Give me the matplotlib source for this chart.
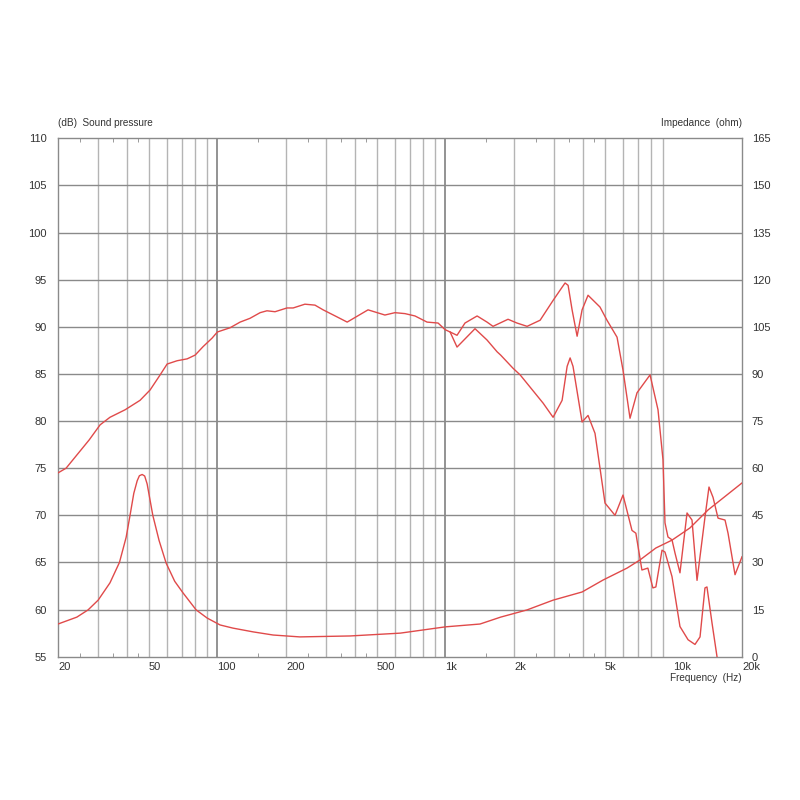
import numpy as np
import matplotlib
matplotlib.use("Agg")
import matplotlib.pyplot as plt
from matplotlib.ticker import FixedLocator, NullFormatter

# ---- data ----
spl_freq = [20, 21.7, 27.4, 30.6, 33.8, 39.4, 45.8, 50.7, 56.1, 60.2, 66.6, 73.7, 79.9, 86.6, 94.8,
            100, 113.7, 125.8, 139, 154, 165, 179, 202, 215, 242, 268, 291, 335, 371, 458, 543,
            601, 665, 736, 831, 929, 997, 1049, 1125, 1219, 1378, 1523, 1618, 1883, 2061, 2283,
            2604, 2968, 3251, 3350, 3454, 3596, 3783, 3978, 4224, 4765, 5115, 5662, 6014, 6455,
            6927, 7902, 8563, 9005,
            9190, 9470, 9863, 10166, 10690, 11480, 12070, 12700, 13760, 14330, 14930, 15700,
            16850, 17370, 18640, 20000]
spl_db = [74.5, 75.0, 78.0, 79.6, 80.4, 81.2, 82.2, 83.3, 84.9, 86.05, 86.4, 86.6, 87.0, 87.9, 88.8,
          89.45, 89.9, 90.5, 90.9, 91.5, 91.7, 91.6, 92.0, 92.0, 92.4, 92.3, 91.8, 91.05, 90.5, 91.8, 91.25,
          91.5, 91.4, 91.15, 90.5, 90.4, 89.7, 89.45, 89.1, 90.4, 91.15, 90.5, 90.05, 90.8, 90.4, 90.05,
          90.7, 92.8, 94.2, 94.65, 94.4, 91.8, 89.0, 91.8, 93.35, 92.1, 90.7, 88.9, 85.4, 80.3,
          83.0, 84.9, 81.2, 75.9,
          69.2, 67.7, 67.4, 66.0, 63.9, 70.25, 69.5, 63.1, 69.8, 73.0, 71.9, 69.7,
          69.5, 68.1, 63.7, 65.6]

off_freq = [1049, 1125, 1349, 1523, 1686, 1748, 1981, 2128, 2684, 2968, 3251, 3420, 3525, 3630,
            3978, 4224, 4532, 5014, 5547, 6014, 6584, 6848, 7278, 7730, 8130, 8380, 8916, 9190,
            9863, 10690, 11600, 12440, 13090, 13760, 14040, 14770, 15540, 16200]
off_db = [89.45, 87.85, 89.8, 88.6, 87.35, 87.0, 85.6, 84.9, 81.9, 80.4, 82.2, 85.8, 86.7, 85.8,
          79.9, 80.6, 78.7, 71.3, 70.0, 72.15, 68.4, 68.1, 64.2, 64.4, 62.3, 62.4, 66.3, 66.1,
          63.5, 58.2, 56.8, 56.3, 57.1, 62.3, 62.4, 58.6, 55.0, 52.0]

imp_freq = [20, 24.2, 27.1, 30.0, 33.8, 37.2, 39.8, 41.4, 43.0, 44.5, 45.5, 46.8, 48.0, 49.2,
            52.1, 55.5, 59.6, 65.0, 70.7, 80.7,
            90.2, 102.8, 117, 143.5, 175.6, 230, 382, 634, 1000, 1419, 1748, 2283, 2968, 3978,
            4916, 6263, 7140, 8380, 9863, 11830, 14190, 20000]
imp_ohm = [10.4, 12.6, 14.9, 18.0, 23.5, 30.0, 38.0, 45.0, 52.0, 56.0, 57.6, 58.0, 57.5, 55.0,
           45.0, 37.0, 29.8, 24.0, 20.3, 14.9,
           12.3, 10.1, 9.1, 7.9, 6.9, 6.3, 6.6, 7.5, 9.5, 10.4, 12.6, 14.9, 18.0, 20.6,
           24.4, 28.2, 30.8, 34.6, 37.1, 41.0, 46.7, 55.3]

x_ticks = [20, 50, 100, 200, 500, 1000, 2000, 5000, 10000, 20000]
x_labels = ["20", "50", "100", "200", "500", "1k", "2k", "5k", "10k", "20k"]
db_ticks = list(range(55, 111, 5))
ohm_ticks = list(range(0, 166, 15))

# ---- style ----
plt.rcParams['font.family'] = ['Liberation Sans', 'DejaVu Sans']
txt_col = '#333333'
red = '#e04a4a'
minor_grid = '#b4b4b4'
major_grid = '#8a8a8a'

fig = plt.figure(figsize=(8, 8), dpi=100)
ax = fig.add_axes([58/800, 1-656.7/800, 684/800, 518.4/800])
ax.set_xscale('log')
ax.set_xlim(20, 20000)
ax.set_ylim(55, 110)

# grid lines
for dec in [10, 100, 1000]:
    for m in range(1, 10):
        f = dec * m
        if f <= 20 or f >= 20000:
            continue
        col = major_grid if m == 1 else minor_grid
        lw = 1.3 if m == 1 else 1.0
        ax.axvline(f, color=col, lw=lw, zorder=1)
for d in db_ticks[1:-1]:
    ax.axhline(d, color=major_grid, lw=1.0, zorder=1)

for s in ax.spines.values():
    s.set_color('#8a8a8a')
    s.set_linewidth(1.0)

ax.xaxis.set_major_locator(FixedLocator(x_ticks))
ax.set_xticklabels(x_labels, ha='left')
minor = [f * dec for dec in [10, 100, 1000] for f in [1.5, 2.5, 3.5, 4.5] if 20 < f * dec < 20000]
ax.xaxis.set_minor_locator(FixedLocator(minor))
ax.xaxis.set_minor_formatter(NullFormatter())
ax.tick_params(axis='x', which='major', length=0, labelsize=8, colors=txt_col, pad=4)
ax.tick_params(axis='x', which='minor', direction='in', length=3, color=major_grid,
               top=True, bottom=True)
ax.set_yticks(db_ticks)
ax.tick_params(axis='y', length=0, labelsize=8, colors=txt_col, pad=8)

ax.plot(spl_freq, spl_db, color=red, lw=1.0, zorder=3)
ax.plot(off_freq, off_db, color=red, lw=1.0, zorder=3)

ax2 = ax.twinx()
ax2.set_ylim(0, 165)
ax2.set_yticks(ohm_ticks)
ax2.tick_params(axis='y', length=0, labelsize=8, colors=txt_col, pad=7)
for s in ax2.spines.values():
    s.set_visible(False)
ax2.plot(imp_freq, imp_ohm, color=red, lw=1.0, zorder=3)

fig.text(58/800, 1-123/800, "(dB)  Sound pressure", fontsize=7.2, color=txt_col,
         ha='left', va='center')
fig.text(742/800, 1-123/800, "Impedance  (ohm)", fontsize=7.2, color=txt_col,
         ha='right', va='center')
fig.text(742/800, 1-678/800, "Frequency  (Hz)", fontsize=7.2, color=txt_col,
         ha='right', va='center')

fig.savefig("out.png", dpi=100, facecolor='white')
